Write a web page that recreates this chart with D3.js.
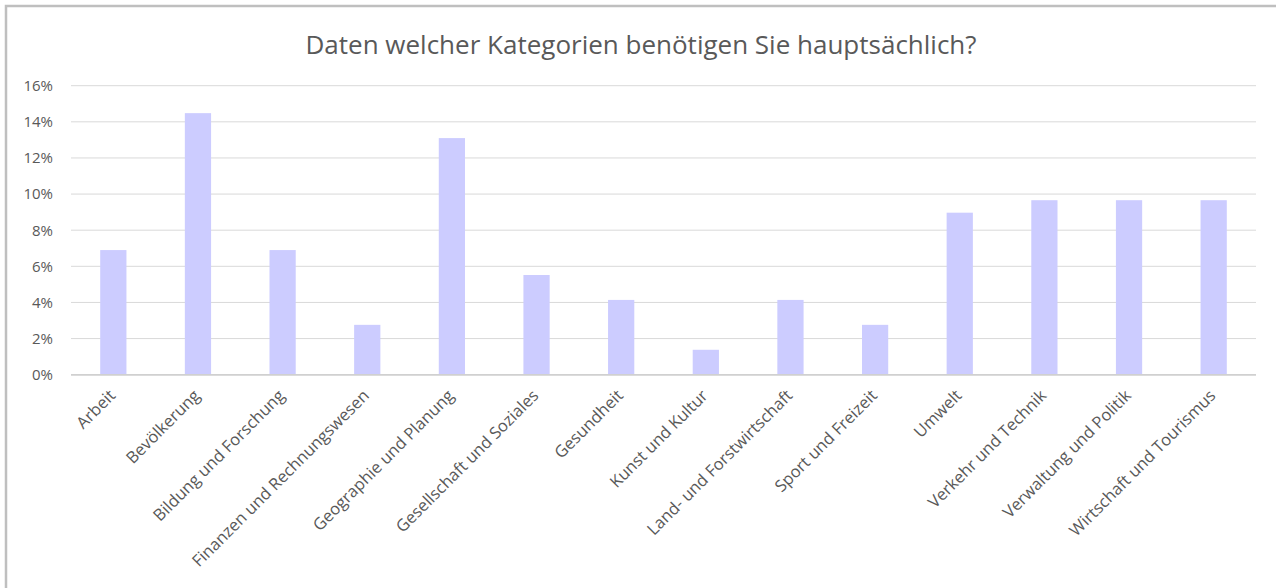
<!DOCTYPE html>
<html><head><meta charset="utf-8">
<script src="https://cdn.jsdelivr.net/npm/d3@7"></script>
<style>html,body{margin:0;padding:0;background:#fff;} svg{display:block;font-family:"Open Sans",sans-serif;}</style>
</head><body>
<script>
const categories = ["Arbeit","Bevölkerung","Bildung und Forschung","Finanzen und Rechnungswesen","Geographie und Planung","Gesellschaft und Soziales","Gesundheit","Kunst und Kultur","Land- und Forstwirtschaft","Sport und Freizeit","Umwelt","Verkehr und Technik","Verwaltung und Politik","Wirtschaft und Tourismus"];
const values = [6.90,14.48,6.90,2.76,13.10,5.52,4.14,1.38,4.14,2.76,8.97,9.66,9.66,9.66];
const yTicks = [0,2,4,6,8,10,12,14,16];
const title = "Daten welcher Kategorien benötigen Sie hauptsächlich?";

(function(){
const W=1276,H=588;
const svg=d3.select("body").append("svg").attr("width",W).attr("height",H);
svg.append("rect").attr("x",6).attr("y",6).attr("width",1400).attr("height",800)
  .attr("fill","#fff").attr("stroke","#bfbfbf").attr("stroke-width",2.5);
svg.append("text").attr("x",641).attr("y",54).attr("text-anchor","middle")
  .attr("font-size",26).attr("fill","#595959").text(title);

const pL=71,pR=1256,pT=85.7,pB=374.7;
const x=d3.scaleBand().domain(categories).range([pL,pR]).paddingInner(0.69).paddingOuter(0.345);
const y=d3.scaleLinear().domain([0,16]).range([pB,pT]);

const grid=svg.append("g");
grid.selectAll("line").data(yTicks).join("line")
  .attr("x1",pL).attr("x2",pR).attr("y1",d=>y(d)).attr("y2",d=>y(d))
  .attr("stroke",d=>d===0?"#d0d0d0":"#d9d9d9").attr("stroke-width",d=>d===0?1.5:1);

const yAxis=d3.axisLeft(y).tickValues(yTicks).tickFormat(d=>d+"%").tickSize(0).tickPadding(18);
const ya=svg.append("g").attr("transform",`translate(${pL},0)`).call(yAxis);
ya.select(".domain").remove();
ya.selectAll("text").attr("font-size",15).attr("fill","#595959").attr("font-family","Open Sans");

svg.append("g").selectAll("rect").data(values).join("rect")
  .attr("x",(d,i)=>x(categories[i])).attr("width",x.bandwidth())
  .attr("y",d=>y(d)).attr("height",d=>y(0)-y(d)).attr("fill","#ccccff");

svg.append("line").attr("x1",pL).attr("x2",pR).attr("y1",y(0)).attr("y2",y(0))
  .attr("stroke","#d0d0d0").attr("stroke-width",1.5);

const xAxis=d3.axisBottom(x).tickSize(0).tickPadding(0);
const xa=svg.append("g").attr("transform",`translate(0,${pB})`).call(xAxis);
xa.select(".domain").remove();
xa.selectAll("text").attr("font-size",16.5).attr("fill","#595959").attr("font-family","Open Sans")
  .attr("text-anchor","end").attr("dy",null).attr("y",0)
  .attr("transform","translate(3,22) rotate(-45)");
})();
</script>
</body></html>
